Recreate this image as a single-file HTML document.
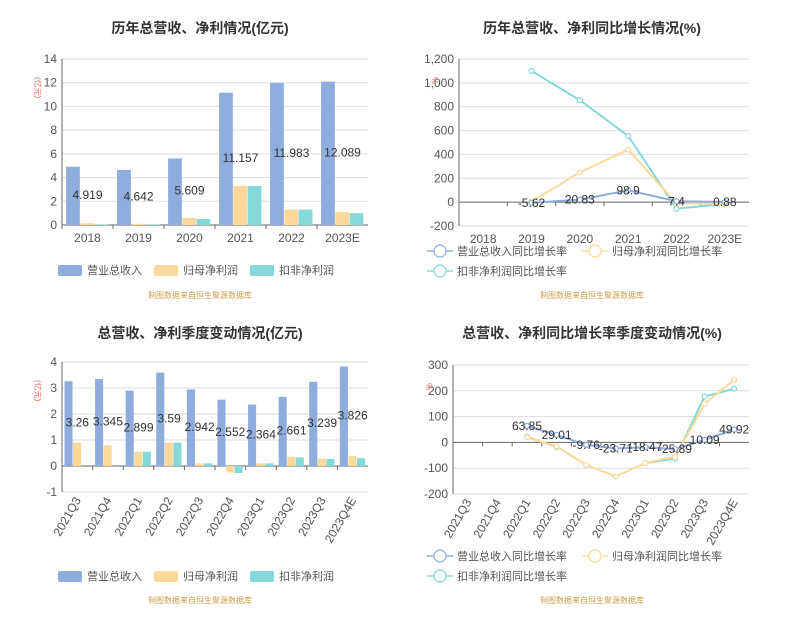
<!DOCTYPE html>
<html><head><meta charset="utf-8"><style>
body{margin:0;background:#fff;width:794px;height:618px;overflow:hidden;font-family:"Liberation Sans","Noto Sans CJK SC",sans-serif}
svg text{font-family:"Liberation Sans","Noto Sans CJK SC",sans-serif}
</style></head><body>
<svg id="s" width="794" height="618"></svg>
<script>
const annualCats=["2018","2019","2020","2021","2022","2023E"];
const annualRev=[4.919,4.642,5.609,11.157,11.983,12.089];
const annualNet=[0.15,0.1,0.6,3.3,1.3,1.1];
const annualDed=[0.05,0.05,0.5,3.3,1.3,1.0];
const annualTicks=[0,2,4,6,8,10,12,14];
const growRev=[null,-5.62,20.83,98.9,7.4,0.88];
const growNet=[null,5,250,440,-10,-15];
const growDed=[null,1100,855,555,-55,-15];
const growTicks=[-200,0,200,400,600,800,1000,1200];
const qCats=["2021Q3","2021Q4","2022Q1","2022Q2","2022Q3","2022Q4","2023Q1","2023Q2","2023Q3","2023Q4E"];
const qRev=[3.26,3.345,2.899,3.59,2.942,2.552,2.364,2.661,3.239,3.826];
const qNet=[0.9,0.8,0.55,0.9,0.1,-0.25,0.1,0.35,0.28,0.38];
const qDed=[null,null,0.55,0.9,0.1,-0.27,0.1,0.33,0.27,0.3];
const qTicks=[-1,0,1,2,3,4];
const qgRev=[null,null,63.85,29.01,-9.76,-23.71,-18.47,-25.89,10.09,49.92];
const qgNet=[null,null,20,-15,-88,-132,-80,-55,150,243];
const qgDed=[null,null,22,-18,null,null,-80,-63,178,208];
const qgTicks=[-200,-100,0,100,200,300];
const C={rev:"#8eacdc",net:"#fdd89b",ded:"#85d8d8"};
const svg=document.getElementById('s');const NS="http://www.w3.org/2000/svg";
function el(t,a,txt){const e=document.createElementNS(NS,t);for(const k in a)e.setAttribute(k,a[k]);if(txt!==undefined)e.textContent=txt;svg.appendChild(e);return e;}
function fmt(v){return Math.abs(v)>=1000?(v<0?"-":"")+Math.floor(Math.abs(v)/1000)+","+String(Math.abs(v)%1000).padStart(3,"0"):String(v);}
function frame(p){
  const y=v=>p.y0-(v-p.min)/(p.max-p.min)*(p.y0-p.y1);
  const bw=(p.x1-p.x0)/p.cats.length;const xc=i=>p.x0+bw*(i+0.5);
  let t=el('text',{x:p.tx,y:p.ty,'text-anchor':'middle','font-size':14,'font-weight':'bold',fill:'#333'},p.title);
  
  p.ticks.forEach(v=>{let g=el('line',{x1:p.x0,x2:p.x1,y1:y(v),y2:y(v),stroke:v===0?'#666':'#ddd'});
    let l=el('text',{x:p.x0-5,y:y(v)+4,'text-anchor':'end','font-size':12,fill:'#555'},fmt(v));});
  let ax=el('line',{x1:p.x0,x2:p.x0,y1:p.y1,y2:p.y0,stroke:'#666'});
  let u=el('text',{x:p.x0-27,y:p.y1+18,'font-size':8,fill:'#e66',transform:`rotate(90 ${p.x0-27} ${p.y1+18})`},p.unit);
  p.cats.forEach((c,i)=>{
    let tk=el('line',{x1:p.x0+bw*i,x2:p.x0+bw*i,y1:y(0),y2:y(0)+4,stroke:'#666'});
    let lb;if(p.rot){lb=el('text',{x:xc(i)+4,y:p.y0+8,'text-anchor':'end','font-size':12,fill:'#555',transform:`rotate(-60 ${xc(i)+4} ${p.y0+8})`},c);}
    else lb=el('text',{x:xc(i),y:p.y0+17,'text-anchor':'middle','font-size':12,fill:'#555'},c);
    });
  return {y,bw,xc};
}
function bars(p){const f=frame(p);const w=f.bw*0.28;const ser=[[p.a,C.rev],[p.b,C.net],[p.c,C.ded]];
  ser.forEach((s,k)=>s[0].forEach((v,i)=>{if(v===null)return;const x=f.xc(i)-1.5*w+k*w;const y0=f.y(0),yv=f.y(v);
    let r=el('rect',{x:x,y:Math.min(y0,yv),width:w-0.5,height:Math.abs(y0-yv),fill:s[1]});}));
  p.a.forEach((v,i)=>{let t=el('text',{x:f.xc(i),y:f.y(v/2)+3,'text-anchor':'middle','font-size':12,fill:'#333'},String(v));});
  legend(p.lx,p.ly,[["营业总收入",C.rev,0],["归母净利润",C.net,96],["扣非净利润",C.ded,192]],true);
  src(p.tx,p.sy);}
function lines(p){const f=frame(p);[[p.c,C.ded],[p.b,C.net],[p.a,C.rev]].forEach((s,k)=>{let d="",pen=false;
  s[0].forEach((v,i)=>{if(v===null){pen=false;return;}d+=(pen?"L":"M")+f.xc(i)+" "+f.y(v);pen=true;});
  let pa=el('path',{d:d,fill:'none',stroke:s[1],'stroke-width':2});
  s[0].forEach((v,i)=>{if(v===null)return;let c=el('circle',{cx:f.xc(i),cy:f.y(v),r:2.5,fill:'#fff',stroke:s[1],'stroke-width':1.2});});});
  p.a.forEach((v,i)=>{if(v===null)return;let t=el('text',{x:f.xc(i),y:f.y(v)+4,'text-anchor':'middle','font-size':12,fill:'#333'},String(v));});
  legend(p.lx,p.ly,[["营业总收入同比增长率",C.rev,0,0],["归母净利润同比增长率",C.net,155,0],["扣非净利润同比增长率",C.ded,0,20]],false);
  src(p.tx,p.sy);}
function legend(x,y,items,box){items.forEach(it=>{const lx=x+it[2],ly=y+(it[3]||0);
  if(box){let r=el('rect',{x:lx,y:ly-5,width:24,height:11,rx:2,fill:it[1]});}
  else{let l=el('line',{x1:lx,x2:lx+26,y1:ly,y2:ly,stroke:it[1],'stroke-width':1.5});
    let c=el('circle',{cx:lx+13,cy:ly,r:6,fill:'#fff',stroke:it[1],'stroke-width':1.2});}
  let t=el('text',{x:lx+(box?29:30),y:ly+4,'font-size':11,fill:'#555'},it[0]);});}
function src(x,y){let t=el('text',{x:x,y:y,'text-anchor':'middle','font-size':8,fill:'#c8a050'},"制图数据来自恒生聚源数据库");}
bars({id:'annual',title:"历年总营收、净利情况(亿元)",tx:200,ty:33,x0:62,x1:368,y0:225,y1:59,min:0,max:14,ticks:annualTicks,cats:annualCats,unit:"(亿元)",a:annualRev,b:annualNet,c:annualDed,lx:58,ly:270,sy:298});
lines({id:'annual-growth',title:"历年总营收、净利同比增长情况(%)",tx:592,ty:33,x0:459,x1:749,y0:226,y1:59,min:-200,max:1200,ticks:growTicks,cats:annualCats,unit:"%",a:growRev,b:growNet,c:growDed,lx:427,ly:251,sy:298});
bars({id:'quarterly',title:"总营收、净利季度变动情况(亿元)",tx:200,ty:338,x0:62,x1:368,y0:492,y1:362,min:-1,max:4,ticks:qTicks,cats:qCats,unit:"(亿元)",rot:true,a:qRev,b:qNet,c:qDed,lx:58,ly:576,sy:603});
lines({id:'quarterly-growth',title:"总营收、净利同比增长率季度变动情况(%)",tx:592,ty:338,x0:453,x1:749,y0:494,y1:365,min:-200,max:300,ticks:qgTicks,cats:qCats,unit:"%",rot:true,a:qgRev,b:qgNet,c:qgDed,lx:427,ly:556,sy:603});
</script></body></html>
